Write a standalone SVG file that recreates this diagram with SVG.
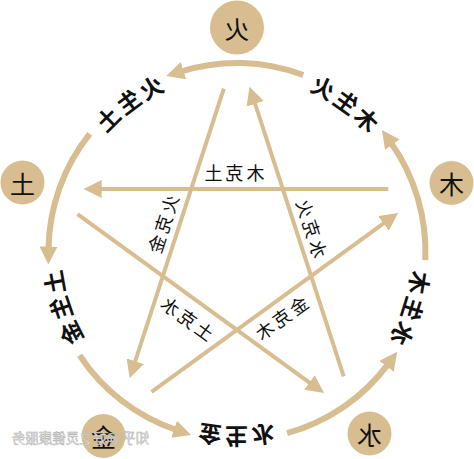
<svg xmlns="http://www.w3.org/2000/svg" xmlns:xlink="http://www.w3.org/1999/xlink" width="474" height="459" viewBox="0 0 474 459">
<style>
.ring{fill:none;stroke:#D7BD8F;stroke-width:6;marker-end:url(#arrow)}
.star{fill:none;stroke:#D7BD8F;stroke-width:4;marker-end:url(#arrow)}
.node{fill:#D7BD8F}
text{font-family:"Noto Sans CJK SC","Noto Sans CJK JP",sans-serif;fill:#111}
.nt{font-size:25px;text-anchor:middle;dominant-baseline:central}
.al{font-size:23px;letter-spacing:4px;dominant-baseline:central;font-weight:bold}
.sl{font-size:18px;letter-spacing:3px;text-anchor:middle;dominant-baseline:central}
.wm{font-size:13.5px;fill:#f2f2f2;stroke:#b0b0b0;stroke-width:0.5}
</style>
<defs>
<marker id="arrow" viewBox="0 0 18 18" refX="3" refY="9" markerWidth="18" markerHeight="18" markerUnits="userSpaceOnUse" orient="auto">
<path d="M0,0 L18,9 L0,18 z" fill="#D7BD8F"/>
</marker>
<path id="p1" d="M258.1,66.7 A186,186 0 0 1 407.6,177.3"/>
<path id="p2" d="M419.3,214.4 A186,186 0 0 1 360.2,390.8"/>
<path id="p3" d="M328.6,413.4 A186,186 0 0 1 142.6,411.8"/>
<path id="p4" d="M111.3,388.6 A186,186 0 0 1 55.4,211.2"/>
<path id="p5" d="M67.7,174.4 A186,186 0 0 1 219.2,66.4"/>
</defs>
<g transform="matrix(-1 0 0 1 474 0)">
<g id="connectors">
<path class="ring" d="M170.7,75.0 A188.5,188.5 0 0 1 293.4,71.6"/>
<path class="ring" d="M384.3,133.9 A188.5,188.5 0 0 1 425.5,249.5"/>
<path class="ring" d="M394.4,355.3 A188.5,188.5 0 0 1 297.1,430.2"/>
<path class="ring" d="M186.9,433.2 A188.5,188.5 0 0 1 85.7,363.9"/>
<path class="ring" d="M48.7,260.1 A188.5,188.5 0 0 1 83.4,142.3"/>
<path class="star" d="M85.7,189 L375.3,189"/>
<path class="star" d="M396.5,214.1 L162.1,384.3"/>
<path class="star" d="M130.3,376.4 L219.8,101.0"/>
<path class="star" d="M250.2,88.6 L339.7,364.0"/>
<path class="star" d="M322.4,391.9 L88.0,221.7"/>
<text class="al"><textPath href="#p1" startOffset="50%" text-anchor="middle">火生土</textPath></text>
<text class="al"><textPath href="#p2" startOffset="50%" text-anchor="middle">土生金</textPath></text>
<text class="al"><textPath href="#p3" startOffset="50%" text-anchor="middle">金生水</textPath></text>
<text class="al"><textPath href="#p4" startOffset="50%" text-anchor="middle">水生木</textPath></text>
<text class="al"><textPath href="#p5" startOffset="50%" text-anchor="middle">木生火</textPath></text>
<text class="sl" transform="translate(241,172)">木克土</text>
<text class="sl" transform="translate(312,225) rotate(72)">火克金</text>
<text class="sl" transform="translate(162,227) rotate(-72)">水克火</text>
<text class="sl" transform="translate(287,317) rotate(-36)">土克水</text>
<text class="sl" transform="translate(194,318) rotate(36)">金克木</text>
</g>
<g id="node-huo"><circle class="node" cx="237" cy="27.5" r="27"/><text class="nt" x="237" y="27.5">火</text></g>
<g id="node-tu"><circle class="node" cx="451.5" cy="182.5" r="22"/><text class="nt" x="451.5" y="182.5">土</text></g>
<g id="node-jin"><circle class="node" cx="370.5" cy="436" r="22"/><text class="nt" x="370.5" y="436">金</text></g>
<g id="node-shui"><circle class="node" cx="104.5" cy="433.5" r="22"/><text class="nt" x="104.5" y="433.5">水</text></g>
<g id="node-mu"><circle class="node" cx="22.5" cy="183" r="22"/><text class="nt" x="22.5" y="183">木</text></g>
<text class="wm" x="325" y="443">知乎 @好之灵健康服务</text>
</g>
</svg>
